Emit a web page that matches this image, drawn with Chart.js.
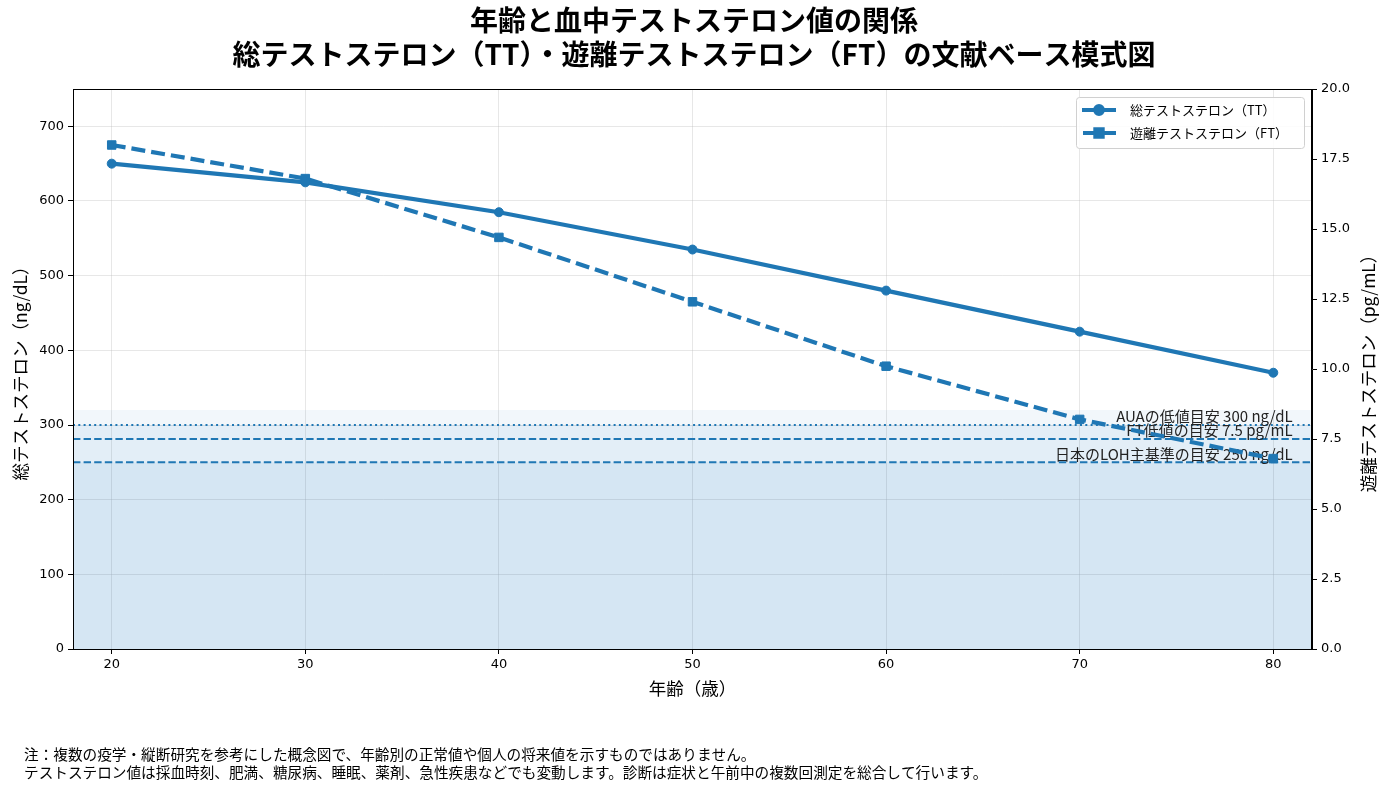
<!DOCTYPE html>
<html lang="ja">
<head>
<meta charset="utf-8">
<title>年齢と血中テストステロン値の関係</title>
<script src="https://cdn.jsdelivr.net/npm/chart.js@4.4.1/dist/chart.umd.min.js"></script>
<style>
  html, body { margin: 0; padding: 0; background: #fff; }
  #wrap { width: 1390px; height: 790px; }
</style>
</head>
<body>
<div id="wrap"><canvas id="chart" width="1390" height="790"></canvas></div>
<script>
// Data
const ages = [20, 30, 40, 50, 60, 70, 80];
const totalT = [650, 625, 585, 535, 480, 425, 370];          // ng/dL (left axis)
const freeT = [18.0, 16.8, 14.7, 12.4, 10.1, 8.2, 6.8];      // pg/mL (right axis)

const leftTicks = [0, 100, 200, 300, 400, 500, 600, 700];
const rightTicks = [0, 2.5, 5, 7.5, 10, 12.5, 15, 17.5, 20];

// Shaded reference zones (top edge in ng/dL, all start at 0)
const bandTops = [320, 300, 250];

// Reference lines
const refValues = [300, 7.5, 250];
const refAxes = ['y', 'y2', 'y'];
const refLabels = ['AUAの低値目安 300 ng/dL', 'FT低値の目安 7.5 pg/mL', '日本のLOH主基準の目安 250 ng/dL'];

const titleLines = ['年齢と血中テストステロン値の関係', '総テストステロン（TT）・遊離テストステロン（FT）の文献ベース模式図'];
const noteLines = [
    '注：複数の疫学・縦断研究を参考にした概念図で、年齢別の正常値や個人の将来値を示すものではありません。',
    'テストステロン値は採血時刻、肥満、糖尿病、睡眠、薬剤、急性疾患などでも変動します。診断は症状と午前中の複数回測定を総合して行います。'
];

const BLUE = '#1f77b4';
const JP = "'Noto Sans CJK JP', 'Noto Sans', sans-serif";
const NUM = "'DejaVu Sans', sans-serif";
const bandAlphas = [0.06, 0.07, 0.07];
const refDashes = [[2, 3.3], [7.4, 3.2], [7.4, 3.2]];

// Bands, reference lines and their labels go under the data lines
const zonesPlugin = {
    id: 'zones',
    beforeDatasetsDraw(chart) {
        const { ctx, chartArea: a, scales } = chart;
        ctx.save();
        bandTops.forEach((top, i) => {
            const y1 = scales.y.getPixelForValue(top);
            const y0 = scales.y.getPixelForValue(0);
            ctx.fillStyle = `rgba(31, 119, 180, ${bandAlphas[i]})`;
            ctx.fillRect(a.left, y1, a.right - a.left, y0 - y1);
        });
        refValues.forEach((v, i) => {
            const y = scales[refAxes[i]].getPixelForValue(v);
            ctx.strokeStyle = BLUE;
            ctx.lineWidth = 2;
            ctx.setLineDash(refDashes[i]);
            ctx.beginPath();
            ctx.moveTo(a.left, y);
            ctx.lineTo(a.right, y);
            ctx.stroke();
        });
        ctx.setLineDash([]);
        ctx.fillStyle = '#222';
        ctx.font = `15px ${JP}`;
        ctx.textAlign = 'right';
        ctx.textBaseline = 'bottom';
        const tx = scales.x.getPixelForValue(81);
        refValues.forEach((v, i) => {
            const y = scales[refAxes[i]].getPixelForValue(v);
            ctx.fillText(refLabels[i], tx, y - 1);
        });
        ctx.restore();
    },
    afterDraw(chart) {
        const { ctx, chartArea: a } = chart;
        ctx.save();

        // frame
        ctx.strokeStyle = '#000';
        ctx.lineWidth = 1;
        ctx.strokeRect(a.left + 0.5, a.top + 0.5, a.right - a.left - 1, a.bottom - a.top);

        // title
        ctx.fillStyle = '#000';
        ctx.textAlign = 'center';
        ctx.textBaseline = 'middle';
        ctx.font = `bold 28px ${JP}`;
        ctx.fillText(titleLines[0], 694, 20);
        ctx.fillText(titleLines[1], 694, 54);

        // right axis title, reading bottom to top
        ctx.font = `17.5px ${JP}`;
        ctx.save();
        ctx.translate(1368, (a.top + a.bottom) / 2);
        ctx.rotate(-Math.PI / 2);
        ctx.fillText('遊離テストステロン（pg/mL）', 0, 0);
        ctx.restore();

        // footnote
        ctx.textAlign = 'left';
        ctx.font = `14.65px ${JP}`;
        ctx.fillText(noteLines[0], 24, 754);
        ctx.fillText(noteLines[1], 24, 772);

        // legend inside the plot, top right
        const bx = 1076, by = 97, bw = 228, bh = 51;
        ctx.beginPath();
        ctx.roundRect(bx + 0.5, by + 0.5, bw, bh, 3);
        ctx.fillStyle = 'rgba(255,255,255,0.85)';
        ctx.fill();
        ctx.strokeStyle = '#d0d0d0';
        ctx.stroke();
        chart.data.datasets.forEach((ds, i) => {
            const y = 110 + i * 23;
            ctx.strokeStyle = ds.borderColor;
            ctx.lineWidth = ds.borderWidth;
            ctx.setLineDash(ds.borderDash || []);
            ctx.lineDashOffset = ds.borderDash ? -1 : 0;
            ctx.beginPath();
            ctx.moveTo(1082, y);
            ctx.lineTo(1116, y);
            ctx.stroke();
            ctx.setLineDash([]);
            Chart.helpers.drawPoint(ctx, {
                pointStyle: ds.pointStyle,
                radius: ds.pointRadius * 0.85,
                borderWidth: 1
            }, 1099, y);
            ctx.fillStyle = ds.backgroundColor;
            ctx.fill();
            ctx.fillStyle = '#000';
            ctx.font = `13px ${JP}`;
            ctx.textBaseline = 'middle';
            ctx.fillText(ds.label, 1130, y);
        });
        ctx.restore();
    }
};

const keepTicks = list => scale => { scale.ticks = list.map(v => ({ value: v })); };

new Chart(document.getElementById('chart'), {
    type: 'line',
    data: {
        datasets: [
            {
                label: '総テストステロン（TT）',
                data: ages.map((a, i) => ({ x: a, y: totalT[i] })),
                yAxisID: 'y',
                borderColor: BLUE,
                backgroundColor: BLUE,
                borderWidth: 4.2,
                pointStyle: 'circle',
                pointRadius: 4.5,
                pointBorderWidth: 1,
                tension: 0
            },
            {
                label: '遊離テストステロン（FT）',
                data: ages.map((a, i) => ({ x: a, y: freeT[i] })),
                yAxisID: 'y2',
                borderColor: BLUE,
                backgroundColor: BLUE,
                borderWidth: 4.2,
                borderDash: [14, 6],
                pointStyle: 'rect',
                pointRadius: 6,
                pointBorderWidth: 1,
                tension: 0
            }
        ]
    },
    options: {
        responsive: false,
        animation: false,
        layout: { padding: { top: 89, bottom: 88, left: 0, right: 0 } },
        plugins: {
            legend: { display: false },
            title: { display: false },
            tooltip: { enabled: false }
        },
        scales: {
            x: {
                type: 'linear',
                min: 18,
                max: 82,
                afterBuildTicks: keepTicks(ages),
                afterFit: s => { s.height = 53; },
                grid: { color: 'rgba(176,176,176,0.3)', tickColor: '#000', tickLength: 5 },
                border: { color: '#000' },
                ticks: { color: '#000', font: { family: NUM, size: 13 }, padding: 3, maxRotation: 0 },
                title: {
                    display: true,
                    text: '年齢（歳）',
                    color: '#000',
                    font: { family: JP, size: 17.5 },
                    padding: { top: 0, bottom: 3.5 }
                }
            },
            y: {
                position: 'left',
                min: 0,
                max: 750,
                afterBuildTicks: keepTicks(leftTicks),
                afterFit: s => { s.width = 73; },
                grid: { color: 'rgba(176,176,176,0.3)', tickColor: '#000', tickLength: 5 },
                border: { color: '#000' },
                ticks: { color: '#000', font: { family: NUM, size: 13 }, padding: 4 },
                title: {
                    display: true,
                    text: '総テストステロン（ng/dL）',
                    color: '#000',
                    font: { family: JP, size: 17.5 },
                    padding: { top: 9.5, bottom: 0 }
                }
            },
            y2: {
                position: 'right',
                min: 0,
                max: 20,
                afterBuildTicks: keepTicks(rightTicks),
                afterFit: s => { s.width = 78; },
                grid: { drawOnChartArea: false, tickColor: '#000', tickLength: 5 },
                border: { color: '#000' },
                ticks: {
                    color: '#000',
                    font: { family: NUM, size: 13 },
                    padding: 4,
                    callback: v => Number(v).toFixed(1)
                }
            }
        }
    },
    plugins: [zonesPlugin]
});
</script>
</body>
</html>
